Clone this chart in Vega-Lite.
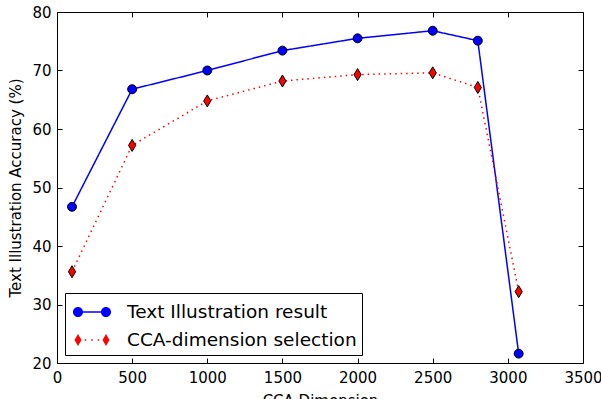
{
  "$schema": "https://vega.github.io/schema/vega-lite/v6.json",
  "width": 526,
  "height": 351,
  "autosize": {"type": "none"},
  "padding": {"left": 57, "top": 12, "right": 18, "bottom": 36},
  "config": {
    "font": "DejaVu Sans",
    "view": {"stroke": "black", "strokeWidth": 1},
    "axis": {
      "grid": false,
      "domain": false,
      "tickColor": "black",
      "tickSize": -5,
      "tickWidth": 1,
      "labelColor": "black",
      "labelFontSize": 15,
      "labelFont": "DejaVu Sans",
      "titleFont": "DejaVu Sans",
      "titleFontWeight": "normal",
      "titleFontSize": 15,
      "titleColor": "black"
    }
  },
  "data": {
    "values": [
      {"dim": 100, "acc": 46.7, "series": "Text Illustration result"},
      {"dim": 500, "acc": 66.8, "series": "Text Illustration result"},
      {"dim": 1000, "acc": 70.0, "series": "Text Illustration result"},
      {"dim": 1500, "acc": 73.4, "series": "Text Illustration result"},
      {"dim": 2000, "acc": 75.5, "series": "Text Illustration result"},
      {"dim": 2500, "acc": 76.8, "series": "Text Illustration result"},
      {"dim": 2800, "acc": 75.1, "series": "Text Illustration result"},
      {"dim": 3072, "acc": 21.6, "series": "Text Illustration result"},
      {"dim": 100, "acc": 35.6, "series": "CCA-dimension selection"},
      {"dim": 500, "acc": 57.2, "series": "CCA-dimension selection"},
      {"dim": 1000, "acc": 64.8, "series": "CCA-dimension selection"},
      {"dim": 1500, "acc": 68.2, "series": "CCA-dimension selection"},
      {"dim": 2000, "acc": 69.3, "series": "CCA-dimension selection"},
      {"dim": 2500, "acc": 69.6, "series": "CCA-dimension selection"},
      {"dim": 2800, "acc": 67.1, "series": "CCA-dimension selection"},
      {"dim": 3072, "acc": 32.2, "series": "CCA-dimension selection"}
    ]
  },
  "layer": [
    {
      "mark": {"type": "point", "filled": true, "opacity": 0},
      "encoding": {
        "x": {"field": "dim", "type": "quantitative", "scale": {"domain": [0, 3500], "nice": false}, "axis": {"values": [0, 500, 1000, 1500, 2000, 2500, 3000, 3500], "format": "d", "title": "CCA Dimension", "labelPadding": 12, "titlePadding": 8, "labelFlush": false}},
        "y": {"field": "acc", "type": "quantitative", "scale": {"domain": [20, 80], "nice": false, "zero": false}, "axis": {"values": [20, 30, 40, 50, 60, 70, 80], "title": "Text Illustration Accuracy (%)", "labelPadding": 11, "titlePadding": 8}},
        "color": {
          "field": "series", "type": "nominal",
          "scale": {"domain": ["Text Illustration result", "CCA-dimension selection"], "range": ["#0000ff", "#ff0000"]},
          "legend": {
            "title": null, "orient": "bottom-left", "offset": 8,
            "padding": 5, "symbolOffset": 8, "labelOffset": 21,
            "labelFontSize": 18.5, "labelFont": "DejaVu Sans", "labelColor": "black", "labelLimit": 400,
            "strokeColor": "black", "fillColor": "white", "cornerRadius": 0,
            "symbolSize": 784, "rowPadding": 4, "symbolStrokeWidth": 0, "symbolOpacity": 1
          }
        },
        "shape": {
          "field": "series", "type": "nominal",
          "scale": {"domain": ["Text Illustration result", "CCA-dimension selection"], "range": ["M-1.36,0A0.36,0.36 0 1,1 -0.64,0A0.36,0.36 0 1,1 -1.36,0Z M0.64,0A0.36,0.36 0 1,1 1.36,0A0.36,0.36 0 1,1 0.64,0Z M-0.64,-0.054L0.64,-0.054L0.64,0.054L-0.64,0.054Z", "M-1,-0.43L-0.75,0L-1,0.43L-1.25,0Z M1,-0.43L1.25,0L1,0.43L0.75,0Z M-0.52,-0.054L-0.41,-0.054L-0.41,0.054L-0.52,0.054Z M-0.055,-0.054L0.055,-0.054L0.055,0.054L-0.055,0.054Z M0.41,-0.054L0.52,-0.054L0.52,0.054L0.41,0.054Z"]},
          "legend": {
            "title": null, "orient": "bottom-left", "offset": 8,
            "padding": 5, "symbolOffset": 8, "labelOffset": 21,
            "labelFontSize": 18.5, "labelFont": "DejaVu Sans", "labelColor": "black", "labelLimit": 400,
            "strokeColor": "black", "fillColor": "white", "cornerRadius": 0,
            "symbolSize": 784, "rowPadding": 4, "symbolStrokeWidth": 0, "symbolOpacity": 1
          }
        }
      }
    },
    {
      "mark": {"type": "line", "strokeWidth": 1.5},
      "encoding": {
        "x": {"field": "dim", "type": "quantitative", "axis": null},
        "y": {"field": "acc", "type": "quantitative", "axis": null},
        "color": {"field": "series", "type": "nominal", "legend": null},
        "strokeDash": {
          "field": "series", "type": "nominal",
          "scale": {"domain": ["Text Illustration result", "CCA-dimension selection"], "range": [[1, 0], [1.5, 4]]},
          "legend": null
        }
      }
    },
    {
      "transform": [{"filter": "datum.series === 'Text Illustration result'"}],
      "mark": {"type": "point", "shape": "circle", "size": 80, "filled": true, "stroke": "black", "strokeWidth": 1, "opacity": 1},
      "encoding": {
        "x": {"field": "dim", "type": "quantitative", "axis": null},
        "y": {"field": "acc", "type": "quantitative", "axis": null},
        "color": {"field": "series", "type": "nominal", "legend": null}
      }
    },
    {
      "transform": [{"filter": "datum.series === 'CCA-dimension selection'"}],
      "mark": {"type": "point", "shape": "M0,-1L0.6,0L0,1L-0.6,0Z", "size": 144, "filled": true, "stroke": "black", "strokeWidth": 1, "opacity": 1},
      "encoding": {
        "x": {"field": "dim", "type": "quantitative", "axis": null},
        "y": {"field": "acc", "type": "quantitative", "axis": null},
        "color": {"field": "series", "type": "nominal", "legend": null}
      }
    },
    {
      "mark": {"type": "point", "opacity": 0},
      "encoding": {
        "x": {"field": "dim", "type": "quantitative", "axis": {"orient": "top", "values": [0, 500, 1000, 1500, 2000, 2500, 3000, 3500], "labels": false, "title": null}},
        "y": {"field": "acc", "type": "quantitative", "axis": {"orient": "right", "values": [20, 30, 40, 50, 60, 70, 80], "labels": false, "title": null}}
      }
    }
  ],
  "resolve": {"axis": {"x": "independent", "y": "independent"}}
}
